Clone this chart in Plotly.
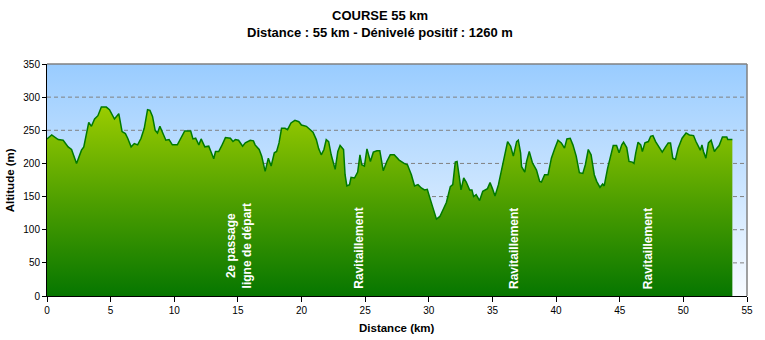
import plotly.graph_objects as go

# Elevation profile of the 55 km course
distance_km = [
    0.00, 0.37, 0.88, 1.27, 1.66, 1.93, 2.32, 2.52, 2.71, 2.89,
    3.10, 3.28, 3.49, 3.74, 4.00, 4.27, 4.66, 4.91, 5.30, 5.64,
    5.90, 6.16, 6.34, 6.61, 6.86, 7.12, 7.39, 7.64, 7.90, 8.09,
    8.29, 8.50, 8.68, 8.87, 9.07, 9.34, 9.59, 9.85, 10.24, 10.63,
    10.82, 11.29, 11.47, 11.68, 11.93, 12.11, 12.40, 12.71, 12.93, 13.10,
    13.24, 13.49, 13.71, 14.02, 14.41, 14.61, 14.80, 15.05, 15.37, 15.58,
    15.97, 16.22, 16.35, 16.67, 16.87, 17.14, 17.39, 17.61, 17.86, 18.04,
    18.23, 18.43, 18.70, 18.90, 19.17, 19.48, 19.79, 19.99, 20.38, 20.65,
    20.90, 21.16, 21.35, 21.55, 21.76, 21.94, 22.13, 22.33, 22.54, 22.64,
    22.85, 23.03, 23.30, 23.42, 23.56, 23.77, 23.89, 24.16, 24.41, 24.59,
    24.73, 24.94, 25.14, 25.41, 25.64, 25.92, 26.15, 26.42, 26.70, 26.97,
    27.28, 27.67, 28.06, 28.32, 28.63, 28.88, 29.15, 29.41, 29.66, 29.88,
    30.13, 30.34, 30.60, 30.87, 31.12, 31.38, 31.69, 31.88, 32.08, 32.22,
    32.39, 32.53, 32.74, 32.94, 33.21, 33.39, 33.52, 33.72, 33.99, 34.24,
    34.61, 34.81, 35.00, 35.20, 35.47, 35.73, 35.98, 36.19, 36.43, 36.64,
    36.90, 37.03, 37.21, 37.29, 37.54, 37.68, 37.89, 38.14, 38.46, 38.71,
    38.85, 39.10, 39.37, 39.63, 39.89, 40.15, 40.41, 40.66, 40.85, 41.11,
    41.32, 41.58, 41.83, 42.10, 42.30, 42.53, 42.75, 43.00, 43.19, 43.45,
    43.66, 43.78, 44.05, 44.31, 44.49, 44.75, 44.95, 45.16, 45.30, 45.55,
    45.73, 45.99, 46.12, 46.26, 46.44, 46.65, 46.78, 46.98, 47.25, 47.43,
    47.61, 47.82, 48.07, 48.34, 48.60, 48.81, 48.99, 49.17, 49.38, 49.59,
    49.90, 50.21, 50.47, 50.80, 50.99, 51.19, 51.33, 51.46, 51.58, 51.77,
    51.97, 52.18, 52.44, 52.63, 52.81, 53.07, 53.41, 53.49, 53.85,
]
altitude_m = [
    237, 243, 236, 235, 225, 221, 200, 211, 220, 225,
    246, 262, 256, 267, 272, 285, 285, 281, 267, 275,
    248, 245, 238, 225, 230, 228, 238, 253, 281, 280,
    271, 250, 246, 256, 247, 235, 236, 228, 228, 241,
    249, 249, 237, 238, 228, 237, 225, 226, 216, 207,
    218, 218, 226, 239, 238, 233, 236, 235, 226, 231,
    235, 234, 228, 221, 211, 188, 208, 196, 216, 218,
    231, 253, 253, 251, 261, 265, 263, 258, 256, 251,
    247, 236, 222, 213, 221, 236, 233, 213, 196, 191,
    218, 227, 221, 183, 166, 168, 179, 178, 187, 213,
    198, 196, 222, 203, 217, 219, 219, 189, 203, 213,
    213, 205, 200, 198, 183, 166, 168, 163, 160, 161,
    145, 133, 116, 120, 131, 141, 165, 168, 202, 203,
    180, 160, 178, 172, 160, 160, 150, 153, 144, 158,
    162, 171, 162, 151, 168, 190, 216, 233, 226, 211,
    233, 235, 216, 195, 187, 203, 218, 201, 190, 173,
    172, 183, 183, 208, 222, 235, 231, 223, 237, 238,
    228, 211, 186, 185, 198, 221, 213, 183, 173, 164,
    169, 166, 193, 216, 227, 227, 216, 228, 232, 224,
    203, 202, 200, 216, 232, 228, 218, 231, 233, 241,
    242, 233, 225, 217, 225, 231, 231, 208, 206, 223,
    238, 246, 243, 242, 233, 225, 220, 228, 218, 208,
    231, 235, 218, 223, 227, 240, 240, 236, 236,
]

# Axis ticks
x_ticks = [0, 5, 10, 15, 20, 25, 30, 35, 40, 45, 50, 55]
y_ticks = [0, 50, 100, 150, 200, 250, 300, 350]

# Points of interest along the course
poi_km = [15.1, 24.55, 36.68, 47.22]
poi_labels = ["2e passage<br>ligne de départ", "Ravitaillement",
              "Ravitaillement", "Ravitaillement"]

title_line1 = "COURSE 55 km"
title_line2 = "Distance : 55 km - Dénivelé positif : 1260 m"

FONT = "Liberation Sans, Arial, sans-serif"
x_max = x_ticks[-1]
y_max = y_ticks[-1]

fig = go.Figure()

# Sky gradient behind the profile
fig.add_trace(go.Scatter(
    x=[0, x_max], y=[y_max, y_max], mode="lines",
    line=dict(width=0), fill="tozeroy",
    fillgradient=dict(type="vertical", start=0, stop=y_max,
                      colorscale=[[0, "#f8fbff"], [1, "#99ccff"]]),
    hoverinfo="skip", showlegend=False,
))

# Dashed horizontal grid lines (drawn under the profile)
gx, gy = [], []
for v in y_ticks[1:-1]:
    gx += [0, x_max, None]
    gy += [v, v, None]
fig.add_trace(go.Scatter(
    x=gx, y=gy, mode="lines",
    line=dict(color="#808080", width=1, dash="4px,3px"),
    hoverinfo="skip", showlegend=False,
))

# Elevation profile
fig.add_trace(go.Scatter(
    x=distance_km, y=altitude_m, mode="lines",
    line=dict(color="#007a00", width=1.5),
    fill="tozeroy",
    fillgradient=dict(type="vertical", start=0, stop=285,
                      colorscale=[[0, "#067600"], [0.5, "#4e9f00"],
                                  [1, "#9acc00"]]),
    hoverinfo="skip", showlegend=False,
))

# Titles are centred on the whole figure width
title_x = (765 / 2 - 47) / 705

annotations = [
    dict(text=f"<b>{title_line1}</b>", xref="paper", yref="paper",
         x=title_x, y=1.211, xanchor="center", yanchor="middle",
         showarrow=False, font=dict(size=13, color="black", family=FONT)),
    dict(text=f"<b>{title_line2}</b>", xref="paper", yref="paper",
         x=title_x, y=1.134, xanchor="center", yanchor="middle",
         showarrow=False, font=dict(size=13, color="black", family=FONT)),
    dict(text="<b>Distance (km)</b>", xref="paper", yref="paper",
         x=0.5, y=-0.138, xanchor="center", yanchor="middle",
         showarrow=False, font=dict(size=11.5, color="black", family=FONT)),
    dict(text="<b>Altitude (m)</b>", xref="paper", yref="paper",
         x=-0.0525, y=0.5, xanchor="center", yanchor="middle",
         textangle=-90, showarrow=False,
         font=dict(size=11.5, color="black", family=FONT)),
]
for km, label in zip(poi_km, poi_labels):
    annotations.append(dict(
        text=f"<b>{label}</b>", x=km, y=8, xref="x", yref="y",
        xanchor="center", yanchor="bottom", textangle=-90, align="center",
        showarrow=False, font=dict(size=12, color="white", family=FONT),
    ))

fig.update_layout(
    width=765, height=340,
    margin=dict(l=47, r=13, t=64, b=44),
    paper_bgcolor="white", plot_bgcolor="white",
    font=dict(family=FONT, size=10, color="black"),
    showlegend=False, hovermode=False,
    annotations=annotations,
    shapes=[
        dict(type="line", xref="paper", yref="paper", x0=0, x1=1, y0=1, y1=1,
             line=dict(color="#808080", width=1.5)),
        dict(type="line", xref="paper", yref="paper", x0=1, x1=1, y0=0, y1=1,
             line=dict(color="#808080", width=1.5)),
    ],
    xaxis=dict(range=[0, x_max], tickvals=x_ticks, showgrid=False,
               zeroline=False, showline=True, linecolor="black", linewidth=1,
               ticks="outside", ticklen=5, tickcolor="black",
               tickfont=dict(size=10, family=FONT)),
    yaxis=dict(range=[0, y_max], tickvals=y_ticks, showgrid=False,
               zeroline=False, showline=True, linecolor="black", linewidth=1,
               ticks="outside", ticklen=4, tickcolor="black",
               tickfont=dict(size=10, family=FONT)),
)

fig.write_html("out.html")
